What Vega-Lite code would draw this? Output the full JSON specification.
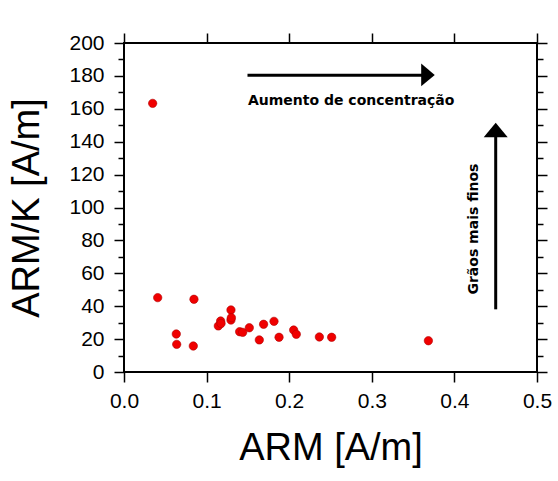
{
  "$schema": "https://vega.github.io/schema/vega-lite/v6.json",
  "autosize": {"type": "none"},
  "width": 413,
  "height": 329,
  "padding": {"left": 124, "top": 43, "right": 21, "bottom": 109},
  "background": "white",
  "config": {
    "view": {"stroke": "black", "strokeWidth": 2},
    "font": "Liberation Sans",
    "axis": {
      "domain": false,
      "grid": false,
      "labelFlush": false,
      "labelOverlap": false,
      "tickColor": "black",
      "tickWidth": 1.5,
      "labelFont": "Liberation Sans",
      "labelFontSize": 21,
      "labelColor": "black",
      "titleFont": "Liberation Sans",
      "titleFontSize": 38,
      "titleFontWeight": "normal",
      "titleColor": "black"
    }
  },
  "resolve": {"axis": {"x": "independent", "y": "independent"}},
  "layer": [
    {
      "data": {"values": [
        {"arm": 0.0347, "armk": 163.3},
        {"arm": 0.0408, "armk": 45.2},
        {"arm": 0.0847, "armk": 44.2},
        {"arm": 0.0633, "armk": 23.1},
        {"arm": 0.0638, "armk": 16.8},
        {"arm": 0.0839, "armk": 15.8},
        {"arm": 0.1142, "armk": 28.0},
        {"arm": 0.117, "armk": 31.0},
        {"arm": 0.1175, "armk": 29.5},
        {"arm": 0.1295, "armk": 37.7},
        {"arm": 0.1295, "armk": 31.6},
        {"arm": 0.1300, "armk": 33.0},
        {"arm": 0.140, "armk": 24.5},
        {"arm": 0.1437, "armk": 24.1},
        {"arm": 0.1517, "armk": 26.9},
        {"arm": 0.1638, "armk": 19.5},
        {"arm": 0.169, "armk": 29.0},
        {"arm": 0.1816, "armk": 30.8},
        {"arm": 0.1877, "armk": 21.1},
        {"arm": 0.2054, "armk": 25.5},
        {"arm": 0.2086, "armk": 22.9},
        {"arm": 0.2365, "armk": 21.3},
        {"arm": 0.2514, "armk": 21.1},
        {"arm": 0.3685, "armk": 19.0}
      ]},
      "mark": {"type": "point", "filled": true, "shape": "circle", "size": 70, "color": "#f00000", "stroke": "#b00000", "strokeWidth": 0.6, "opacity": 1},
      "encoding": {
        "x": {"field": "arm", "type": "quantitative", "scale": {"domain": [0, 0.5], "nice": false, "zero": false},
          "axis": {"orient": "bottom", "title": "ARM [A/m]", "values": [0, 0.1, 0.2, 0.3, 0.4, 0.5], "format": ".1f", "tickSize": 10, "labelPadding": 8, "titlePadding": 18}},
        "y": {"field": "armk", "type": "quantitative", "scale": {"domain": [0, 200], "nice": false, "zero": false},
          "axis": {"orient": "left", "title": "ARM/K [A/m]", "values": [0,10,20,30,40,50,60,70,80,90,100,110,120,130,140,150,160,170,180,190,200],
            "labelExpr": "datum.value % 20 === 0 ? datum.label : ''",
            "tickSize": {"condition": {"test": "datum.value % 20 === 0", "value": 10}, "value": 6},
            "labelPadding": 10, "titlePadding": 22}}
      }
    },
    {
      "data": {"values": [{"arm": 0, "armk": 0}]},
      "mark": {"type": "point", "opacity": 0},
      "encoding": {
        "x": {"field": "arm", "type": "quantitative", "scale": {"domain": [0, 0.5], "nice": false, "zero": false},
          "axis": {"orient": "top", "title": null, "labels": false, "values": [0, 0.1, 0.2, 0.3, 0.4, 0.5], "tickSize": 10}},
        "y": {"field": "armk", "type": "quantitative", "scale": {"domain": [0, 200], "nice": false, "zero": false},
          "axis": {"orient": "right", "title": null, "labels": false, "values": [0,10,20,30,40,50,60,70,80,90,100,110,120,130,140,150,160,170,180,190,200],
            "tickSize": {"condition": {"test": "datum.value % 20 === 0", "value": 10}, "value": 6}}}
      }
    },
    {
      "data": {"values": [
        {"x1": 0.1495, "x2": 0.366, "y1": 180.4, "y2": 180.4},
        {"x1": 0.45, "x2": 0.45, "y1": 38.1, "y2": 146}
      ]},
      "mark": {"type": "rule", "color": "black", "strokeWidth": 3},
      "encoding": {
        "x": {"field": "x1", "type": "quantitative", "axis": null},
        "x2": {"field": "x2"},
        "y": {"field": "y1", "type": "quantitative", "axis": null},
        "y2": {"field": "y2"}
      }
    },
    {
      "data": {"values": [{"x": 0.368, "y": 180.6}]},
      "mark": {"type": "point", "filled": true, "color": "black", "opacity": 1, "size": 515, "shape": "M-0.6,-1L0.6,0L-0.6,1Z"},
      "encoding": {
        "x": {"field": "x", "type": "quantitative", "axis": null},
        "y": {"field": "y", "type": "quantitative", "axis": null}
      }
    },
    {
      "data": {"values": [{"x": 0.45, "y": 147.1}]},
      "mark": {"type": "point", "filled": true, "color": "black", "opacity": 1, "size": 576, "shape": "M-1,0.6L0,-0.6L1,0.6Z"},
      "encoding": {
        "x": {"field": "x", "type": "quantitative", "axis": null},
        "y": {"field": "y", "type": "quantitative", "axis": null}
      }
    },
    {
      "data": {"values": [{"x": 0.150, "y": 162.3, "label": "Aumento de concentração"}]},
      "mark": {"type": "text", "font": "DejaVu Sans", "fontWeight": "bold", "fontSize": 14, "align": "left", "baseline": "alphabetic", "color": "black"},
      "encoding": {
        "x": {"field": "x", "type": "quantitative", "axis": null},
        "y": {"field": "y", "type": "quantitative", "axis": null},
        "text": {"field": "label"}
      }
    },
    {
      "data": {"values": [{"x": 0.4286, "y": 86.9, "label": "Grãos mais finos"}]},
      "mark": {"type": "text", "font": "DejaVu Sans", "fontWeight": "bold", "fontSize": 14, "align": "center", "baseline": "alphabetic", "angle": 270, "color": "black"},
      "encoding": {
        "x": {"field": "x", "type": "quantitative", "axis": null},
        "y": {"field": "y", "type": "quantitative", "axis": null},
        "text": {"field": "label"}
      }
    }
  ]
}
